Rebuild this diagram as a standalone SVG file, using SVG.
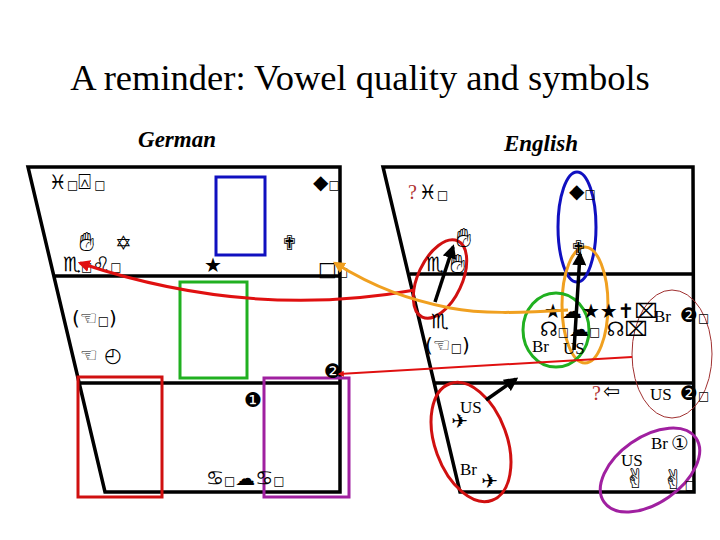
<svg xmlns="http://www.w3.org/2000/svg" width="720" height="540" viewBox="0 0 720 540">
<defs>
<style>
.frame{fill:none;stroke:#000;stroke-width:3.5;stroke-linejoin:miter}
.title{font-family:"Liberation Serif",serif;font-size:36.5px;fill:#000}
.lang{font-family:"Liberation Serif",serif;font-size:23px;font-style:italic;font-weight:bold;fill:#000}
.sym{font-family:"DejaVu Sans",sans-serif;font-size:20px;fill:#000}
.hand{font-family:"DejaVu Sans",sans-serif;font-size:27px;fill:#000}
.sm{font-family:"DejaVu Sans",sans-serif;font-size:12px;fill:#000}
.lbl{font-family:"Liberation Serif",serif;font-size:17px;fill:#000}
.q{font-family:"Liberation Serif",serif;font-size:20px;fill:#b03030}
.arr{stroke:#000;stroke-width:3.5;fill:none}
</style>
<marker id="ah" viewBox="0 0 10 10" refX="8" refY="5" markerWidth="4" markerHeight="4" orient="auto-start-reverse" markerUnits="strokeWidth"><path d="M0,0 L10,5 L0,10 z" fill="#000"/></marker>
<marker id="ahr" viewBox="0 0 10 10" refX="8" refY="5" markerWidth="4" markerHeight="4" orient="auto-start-reverse" markerUnits="strokeWidth"><path d="M0,0 L10,5 L0,10 z" fill="#e01010"/></marker>
<marker id="aho" viewBox="0 0 10 10" refX="8" refY="5" markerWidth="4" markerHeight="4" orient="auto-start-reverse" markerUnits="strokeWidth"><path d="M0,0 L10,5 L0,10 z" fill="#f0a020"/></marker>
<marker id="ahr2" viewBox="0 0 10 10" refX="8" refY="5" markerWidth="3" markerHeight="3" orient="auto-start-reverse"><path d="M0,0 L10,5 L0,10 z" fill="#e01010"/></marker>
</defs>
<rect width="720" height="540" fill="#fff"/>
<text class="title" x="360" y="90" text-anchor="middle">A reminder: Vowel quality and symbols</text>
<text class="lang" x="177" y="147" text-anchor="middle">German</text>
<text class="lang" x="541" y="151" text-anchor="middle">English</text>

<g id="german-chart">
<path class="frame" d="M340,167 L28,167 L105,492 L340,492 Z M54,276 H340 M79,383 H340"/>
</g>
<g id="english-chart">
<path class="frame" d="M693,167 L383,167 L460,492 L694,492 Z M410,274 H693 M435,383 H693"/>
</g>

<g id="german-boxes">
<rect id="g-blue" x="216" y="177" width="49" height="78" fill="none" stroke="#1010c0" stroke-width="3"/>
<rect id="g-green" x="180" y="282" width="67" height="96" fill="none" stroke="#20b020" stroke-width="3"/>
<rect id="g-red" x="78" y="377" width="84" height="120" fill="none" stroke="#d01010" stroke-width="3"/>
<rect id="g-purple" x="264" y="378" width="85" height="119" fill="none" stroke="#a020a0" stroke-width="3"/>
</g>

<g id="german-symbols">
<g id="g-iy"><text class="sym" x="49" y="189">♓<tspan class="sm">□</tspan><tspan font-size="22">⍓</tspan><tspan class="sm" dx="3">□</tspan></text></g>
<g id="g-u"><text class="sym" x="313" y="189">◆<tspan class="sm">□</tspan></text></g>
<g id="g-I"><text class="hand" x="79" y="251">✋︎</text></g>
<g id="g-Y"><text class="sym" x="115" y="250">✡</text></g>
<g id="g-U"><text class="sym" x="281" y="250">✟</text></g>
<g id="g-eo"><text class="sym" x="63" y="271">♏<tspan class="sm">□</tspan>♌<tspan class="sm">□</tspan></text></g>
<g id="g-star"><text class="sym" x="204" y="272" font-size="17">★</text></g>
<g id="g-o"><text class="sym" x="318" y="276" font-size="24">□<tspan class="sm">□</tspan></text></g>
<g id="g-E1"><text class="sym" x="72" y="325">(☜<tspan class="sm">□</tspan>)</text></g>
<g id="g-E2"><text class="sym" x="80" y="362">☜ ◴</text></g>
<g id="g-2"><text class="sym" x="324" y="378" font-size="16">❷</text></g>
<g id="g-1"><text class="sym" x="244" y="407" font-size="16">❶</text></g>
<g id="g-a"><text class="sym" x="206" y="485" font-size="17">♋<tspan class="sm">□</tspan>☁♋<tspan class="sm">□</tspan></text></g>
</g>

<g id="english-ellipses">
<ellipse id="e-blue" cx="577" cy="227" rx="19" ry="55" fill="none" stroke="#1010c0" stroke-width="3"/>
<ellipse id="e-orange" cx="585" cy="305" rx="23" ry="58" fill="none" stroke="#f0a020" stroke-width="3"/>
<ellipse id="e-green" cx="556" cy="330" rx="33" ry="37" fill="none" stroke="#20b020" stroke-width="3"/>
<ellipse id="e-red1" cx="440" cy="279" rx="22" ry="42" transform="rotate(25 440 279)" fill="none" stroke="#d01010" stroke-width="3"/>
<ellipse id="e-red2" cx="471" cy="442" rx="36" ry="62" transform="rotate(-20 471 442)" fill="none" stroke="#d01010" stroke-width="3"/>
<ellipse id="e-purple" cx="650" cy="470" rx="56" ry="33" transform="rotate(-35 650 470)" fill="none" stroke="#a020a0" stroke-width="3"/>
<ellipse id="e-thin" cx="672" cy="354" rx="40" ry="64" fill="none" stroke="#a03030" stroke-width="1"/>
</g>

<g id="english-symbols">
<g id="en-i"><text class="q" x="408" y="199">?</text><text class="sym" x="419" y="199">♓<tspan class="sm">□</tspan></text></g>
<g id="en-u"><text class="sym" x="569" y="198">◆<tspan class="sm">□</tspan></text></g>
<g id="en-I1"><text class="hand" x="456" y="247">✋︎</text></g>
<g id="en-eI"><text class="sym" x="426" y="271">♏</text><text class="hand" x="450" y="273">✋︎</text></g>
<g id="en-U"><text class="sym" x="570" y="255" font-size="16">✟</text></g>
<g id="en-e"><text class="sym" x="431" y="328">♏</text></g>
<g id="en-E"><text class="sym" x="425" y="352">(☜<tspan class="sm">□</tspan>)</text></g>
<g id="en-row1"><text class="sym" x="544" y="318" font-size="14">★☁★★✝⌧</text></g>
<g id="en-row2"><text class="sym" x="540" y="336" font-size="14">☊<tspan class="sm">□</tspan>☁<tspan class="sm">□</tspan> ☊⌧</text></g>
<g id="en-br1"><text class="lbl" x="532" y="352">Br</text><text class="lbl" x="563" y="354">US</text></g>
<g id="en-br2"><text class="lbl" x="654" y="322">Br</text><text class="sym" x="680" y="322" font-size="16">❷<tspan class="sm">□</tspan></text></g>
<g id="en-q"><text class="q" x="592" y="400">?</text><text class="sym" x="603" y="398">⇦</text></g>
<g id="en-us2"><text class="lbl" x="650" y="400">US</text><text class="sym" x="680" y="400" font-size="16">❷<tspan class="sm">□</tspan></text></g>
<g id="en-us3"><text class="lbl" x="460" y="413">US</text><text class="sym" x="451" y="428" font-size="18">✈</text></g>
<g id="en-br3"><text class="lbl" x="460" y="475">Br</text><text class="sym" x="481" y="488" font-size="18">✈</text></g>
<g id="en-br4"><text class="lbl" x="651" y="449">Br</text><text class="sym" x="671" y="450" font-size="17">①</text></g>
<g id="en-us4"><text class="lbl" x="621" y="466">US</text><text class="hand" x="624" y="488" font-size="22">✌︎</text></g>
<g id="en-a"><text class="hand" x="662" y="489" font-size="22">✌︎<tspan class="sm">□</tspan></text></g>
</g>

<g id="connectors">
<path d="M415,290 Q250,320 80,263" fill="none" stroke="#e01010" stroke-width="3" marker-end="url(#ahr)"/>
<path d="M568,310 C520,313 480,314 450,308 C410,300 375,288 335,263" fill="none" stroke="#f0a020" stroke-width="3" marker-end="url(#aho)"/>
<path d="M632,357 L339,374" fill="none" stroke="#e01010" stroke-width="2" marker-end="url(#ahr2)"/>
<path class="arr" d="M435,302 L453,247" marker-end="url(#ah)"/>
<path class="arr" d="M574,350 L580,254" marker-end="url(#ah)"/>
<path class="arr" d="M486,400 L516,379" marker-end="url(#ah)"/>
</g>
</svg>
